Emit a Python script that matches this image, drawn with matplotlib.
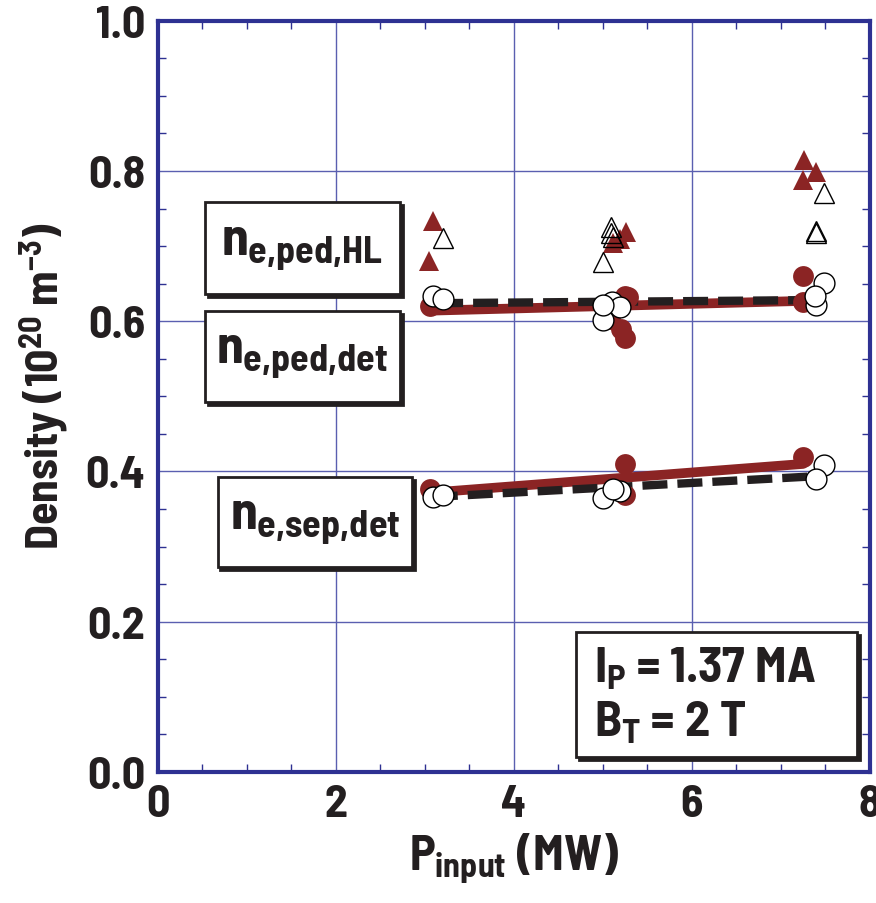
import matplotlib.pyplot as plt
from matplotlib.patches import Rectangle

fnt = 'Barlow Semi Condensed'
plt.rcParams['font.family'] = [fnt, 'DejaVu Sans']
plt.rcParams['font.weight'] = 'bold'
plt.rcParams['axes.labelweight'] = 'bold'
plt.rcParams['mathtext.fontset'] = 'custom'
plt.rcParams['mathtext.rm'] = fnt + ':bold'
plt.rcParams['mathtext.it'] = fnt + ':bold'
plt.rcParams['mathtext.bf'] = fnt + ':bold'

# データ
# n_e,ped,HL 三角
hl_red_x = [3.09, 3.05, 5.26, 5.19, 5.11, 7.26, 7.40, 7.25]
hl_red_y = [0.734, 0.680, 0.719, 0.710, 0.704, 0.814, 0.799, 0.788]
hl_open_x = [3.20, 5.00, 5.09, 5.09, 5.11, 7.49, 7.39, 7.39]
hl_open_y = [0.711, 0.679, 0.726, 0.718, 0.712, 0.771, 0.720, 0.718]

# n_e,ped,det 丸
ped_red_x = [3.06, 5.25, 5.28, 5.08, 5.20, 5.25, 7.25, 7.25]
ped_red_y = [0.620, 0.634, 0.632, 0.603, 0.590, 0.578, 0.660, 0.626]
ped_open_x = [3.09, 3.20, 5.00, 5.10, 5.19, 5.00, 7.49, 7.39, 7.38]
ped_open_y = [0.634, 0.630, 0.601, 0.626, 0.619, 0.621, 0.651, 0.621, 0.634]

# n_e,sep,det 丸
sep_red_x = [3.06, 5.25, 5.25, 7.25]
sep_red_y = [0.377, 0.410, 0.368, 0.419]
sep_open_x = [3.09, 3.20, 5.00, 5.19, 5.11, 7.49, 7.39]
sep_open_y = [0.366, 0.368, 0.364, 0.374, 0.377, 0.408, 0.390]

# フィット線
ped_fit_red_x = [3.06, 7.25]
ped_fit_red_y = [0.614, 0.627]
ped_fit_blk_x = [3.15, 7.30]
ped_fit_blk_y = [0.624, 0.628]
sep_fit_red_x = [3.09, 7.25]
sep_fit_red_y = [0.372, 0.410]
sep_fit_blk_x = [3.09, 7.30]
sep_fit_blk_y = [0.366, 0.393]

red = '#8b2424'
navy = '#2e3192'
ink = '#231f20'

fig = plt.figure(figsize=(8.76, 9.04), dpi=100)
ax = fig.add_axes([0.180, 0.145, 0.813, 0.831])

ax.plot(ped_fit_red_x, ped_fit_red_y, color=red, lw=7, solid_capstyle='round', zorder=2)
ax.plot(ped_fit_blk_x, ped_fit_blk_y, color=ink, lw=6, ls=(0, (3, 1.2)), zorder=3)
ax.plot(sep_fit_red_x, sep_fit_red_y, color=red, lw=7, solid_capstyle='round', zorder=2)
ax.plot(sep_fit_blk_x, sep_fit_blk_y, color=ink, lw=6, ls=(0, (3, 1.2)), zorder=3)

ms = 15
ax.plot(hl_red_x, hl_red_y, '^', color=red, ms=ms, mew=0, ls='none', zorder=4)
ax.plot(hl_open_x, hl_open_y, '^', mfc='none', mec='black', ms=ms, mew=1, ls='none', zorder=4)
ax.plot(ped_red_x, ped_red_y, 'o', color=red, ms=ms, mew=0, ls='none', zorder=4)
ax.plot(ped_open_x, ped_open_y, 'o', mfc='white', mec='black', ms=ms, mew=1, ls='none', zorder=5)
ax.plot(sep_red_x, sep_red_y, 'o', color=red, ms=ms, mew=0, ls='none', zorder=4)
ax.plot(sep_open_x, sep_open_y, 'o', mfc='white', mec='black', ms=ms, mew=1, ls='none', zorder=5)

ax.set_xlim(0, 8)
ax.set_ylim(0, 1.0)
ax.set_xticks([0, 2, 4, 6, 8])
ax.set_yticks([0, 0.2, 0.4, 0.6, 0.8, 1.0])
ax.set_yticklabels(['0.0', '0.2', '0.4', '0.6', '0.8', '1.0'])
ax.set_xticks([i * 0.5 for i in range(17)], minor=True)
ax.set_yticks([i * 0.05 for i in range(21)], minor=True)
ax.tick_params(which='both', direction='in', top=True, right=True, colors=navy,
               labelcolor=ink, labelsize=33, pad=9)
ax.tick_params(which='major', length=0)
ax.tick_params(which='minor', length=6, width=1)
ax.grid(True, which='major', color='#5a5fb0', lw=1)
for s in ax.spines.values():
    s.set_color(navy)
    s.set_linewidth(3)

ax.set_xlabel(r'$P_{\text{input}}$ (MW)', fontsize=35, labelpad=4, color=ink)
ax.set_ylabel(r'Density (10$^{20}$ m$^{-3}$)', fontsize=33, color=ink)
ax.yaxis.set_label_coords(-0.122, 0.515)


def box(x0, y0, x1, y1, text, fs, ha='center', tx=None):
    sh = Rectangle((x0 + 0.004, y0 - 0.004), x1 - x0, y1 - y0, transform=ax.transAxes,
                   facecolor=ink, edgecolor=ink, lw=2, zorder=6)
    r = Rectangle((x0, y0), x1 - x0, y1 - y0, transform=ax.transAxes,
                  facecolor='white', edgecolor=ink, lw=2, zorder=7)
    ax.add_patch(sh)
    ax.add_patch(r)
    if tx is None:
        tx = (x0 + x1) / 2
    ax.text(tx, (y0 + y1) / 2, text, transform=ax.transAxes, ha=ha, va='center',
            fontsize=fs, color=ink, zorder=8, linespacing=1.2)


box(0.066, 0.636, 0.340, 0.759, r'$n_{\text{e,ped,HL}}$', 39)
box(0.066, 0.493, 0.340, 0.614, r'$n_{\text{e,ped,det}}$', 39)
box(0.084, 0.273, 0.357, 0.393, r'$n_{\text{e,sep,det}}$', 39)
box(0.588, 0.020, 0.982, 0.186, '$I_P$ = 1.37 MA\n$B_T$ = 2 T', 36, ha='left', tx=0.612)

fig.savefig('out.png', dpi=100)
